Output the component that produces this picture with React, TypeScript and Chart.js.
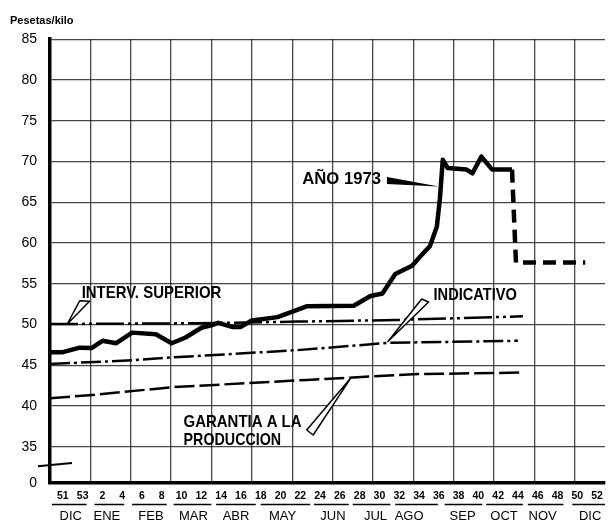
import { useEffect, useRef } from "react";
import { Chart, registerables } from "chart.js";

Chart.register(...registerables);

// Week index: -2 = week 51 of 1972, 0 = week 53 of 1972, n = week n of 1973
const weeks1973 = [-3.3, -2.0, -0.3, 0.9, 2.0, 3.4, 5.0, 7.4, 9.0, 10.4, 12.0, 13.0, 13.7, 15.1, 16.0, 17.1, 19.7, 22.7, 27.4, 29.1, 30.3, 31.6, 33.3, 34.4, 35.1, 35.8, 36.1, 36.4, 36.9, 38.8, 39.4, 40.3, 41.4, 43.4];
const price1973 = [46.6, 46.6, 47.15, 47.1, 48.0, 47.7, 49.0, 48.8, 47.7, 48.4, 49.6, 49.9, 50.2, 49.7, 49.7, 50.5, 50.9, 52.25, 52.3, 53.5, 53.8, 56.2, 57.2, 58.7, 59.6, 62.0, 65.3, 70.2, 69.2, 69.0, 68.55, 70.6, 69.0, 69.0];

const weeksProjected = [43.4, 43.8, 50.8];
const priceProjected = [69.0, 57.6, 57.6];

const weeksInterv = [-3.3, 11.7, 21.7, 31.7, 37.4, 44.5];
const priceInterv = [50.05, 50.15, 50.35, 50.55, 50.75, 51.0];

const weeksIndicativo = [-3.3, 5.0, 9.0, 21.7, 31.0, 44.0];
const priceIndicativo = [45.15, 45.6, 45.95, 46.85, 47.75, 48.0];

const weeksGarantia = [-3.3, 1.0, 9.0, 22.7, 33.4, 44.4];
const priceGarantia = [40.95, 41.35, 42.3, 43.2, 43.9, 44.1];

const weekTickValues = [-2, 0, 2, 4, 6, 8, 10, 12, 14, 16, 18, 20, 22, 24, 26, 28, 30, 32, 34, 36, 38, 40, 42, 44, 46, 48, 50, 52];
const weekTickLabels = ["51", "53", "2", "4", "6", "8", "10", "12", "14", "16", "18", "20", "22", "24", "26", "28", "30", "32", "34", "36", "38", "40", "42", "44", "46", "48", "50", "52"];

const monthLabels = ["DIC", "ENE", "FEB", "MAR", "ABR", "MAY", "JUN", "JUL", "AGO", "SEP", "OCT", "NOV", "DIC"];
const monthLabelWeeks = [-1.2, 2.45, 6.9, 11.2, 15.5, 20.2, 25.3, 29.6, 33.0, 38.4, 42.6, 46.5, 51.3];
const monthStartWeeks = [-3.1, 1.2, 5.0, 9.2, 13.5, 18.0, 23.4, 27.3, 31.6, 36.6, 40.8, 45.0, 49.5];
const monthEndWeeks = [0.4, 4.2, 8.5, 13.0, 17.5, 23.0, 26.9, 31.1, 35.9, 40.4, 44.5, 48.6, 52.8];

const yBottom = 30.55; // broken axis: shown as 0
const yTickValues = [yBottom, 35, 40, 45, 50, 55, 60, 65, 70, 75, 80, 85];
const yTickLabels = ["0", "35", "40", "45", "50", "55", "60", "65", "70", "75", "80", "85"];

const X_MIN = -3.3;
const X_MAX = 52.8;
const GRID_STEP = 4.08;

const SANS = "'Liberation Sans', Arial, Helvetica, sans-serif";
const GRID = "rgba(0,0,0,0.72)";

const toXY = (xs: number[], ys: number[]) => xs.map((x, i) => ({ x, y: ys[i] }));

const annotationTexts = [
  { text: "AÑO 1973", w: 22.2, v: 67.85, condense: 0.98 },
  { text: "INTERV. SUPERIOR", w: -0.1, v: 53.86, condense: 0.88 },
  { text: "INDICATIVO", w: 35.47, v: 53.62, condense: 0.86 },
  { text: "GARANTIA A LA", w: 10.2, v: 38.03, condense: 0.88 },
  { text: "PRODUCCION", w: 10.2, v: 35.8, condense: 0.84 },
];

const hollowPointers = [
  [[-0.3, 52.9], [0.7, 52.84], [-1.55, 50.06]],
  [[34.27, 53.13], [34.97, 52.76], [30.86, 47.9]],
  [[22.65, 37.05], [23.3, 36.44], [27.15, 43.5]],
];
const solidPointer = [[30.76, 68.1], [30.76, 67.24], [36.0, 66.93]];

const decorPlugin = {
  id: "decor",
  afterDraw(chart: any) {
    const ctx = chart.ctx;
    const xs = chart.scales.x;
    const ys = chart.scales.y;
    const xm = chart.scales.xm;
    const px = (w: number) => xs.getPixelForValue(w);
    const py = (v: number) => ys.getPixelForValue(v);
    ctx.save();
    // month underlines
    ctx.strokeStyle = "#000";
    ctx.lineWidth = 1.5;
    for (let i = 0; i < monthStartWeeks.length; i++) {
      ctx.beginPath();
      ctx.moveTo(xm.getPixelForValue(monthStartWeeks[i]), xm.top + 1.5);
      ctx.lineTo(xm.getPixelForValue(monthEndWeeks[i]), xm.top + 1.5);
      ctx.stroke();
    }
    // axis break mark
    ctx.lineWidth = 2;
    ctx.beginPath();
    ctx.moveTo(xs.left - 12, py(32.6));
    ctx.lineTo(xs.left + 22, py(33.0));
    ctx.stroke();
    // labels (condensed bold sans)
    ctx.fillStyle = "#000";
    ctx.font = `bold 17px ${SANS}`;
    ctx.textAlign = "left";
    ctx.textBaseline = "middle";
    for (const t of annotationTexts) {
      ctx.save();
      ctx.translate(px(t.w), py(t.v));
      ctx.scale(t.condense, 1);
      ctx.fillText(t.text, 0, 0);
      ctx.restore();
    }
    // solid wedge
    ctx.beginPath();
    solidPointer.forEach(([w, v], i) => (i ? ctx.lineTo(px(w), py(v)) : ctx.moveTo(px(w), py(v))));
    ctx.closePath();
    ctx.fill();
    // hollow pointers
    ctx.lineWidth = 1.5;
    ctx.lineJoin = "round";
    for (const p of hollowPointers) {
      ctx.beginPath();
      p.forEach(([w, v], i) => (i ? ctx.lineTo(px(w), py(v)) : ctx.moveTo(px(w), py(v))));
      ctx.closePath();
      ctx.fillStyle = "#fff";
      ctx.fill();
      ctx.stroke();
    }
    ctx.restore();
  },
};

export default function App() {
  const ref = useRef<HTMLCanvasElement>(null);
  useEffect(() => {
    const canvas = ref.current!;
    const lineBase = { pointRadius: 0, tension: 0, borderColor: "#000", fill: false, borderJoinStyle: "round" as const };
    const chart = new Chart(canvas, {
      type: "line",
      data: {
        datasets: [
          { ...lineBase, label: "INTERV. SUPERIOR", data: toXY(weeksInterv, priceInterv), borderWidth: 2.5, borderDash: [28, 4, 3, 4, 3, 4] },
          { ...lineBase, label: "INDICATIVO", data: toXY(weeksIndicativo, priceIndicativo), borderWidth: 2.5, borderDash: [20, 4, 3, 4] },
          { ...lineBase, label: "GARANTIA A LA PRODUCCION", data: toXY(weeksGarantia, priceGarantia), borderWidth: 2.5, borderDash: [20, 5] },
          { ...lineBase, label: "AÑO 1973", data: toXY(weeks1973, price1973), borderWidth: 4.5 },
          { ...lineBase, label: "AÑO 1973 (proyección)", data: toXY(weeksProjected, priceProjected), borderWidth: 4.5, borderDash: [13, 7] },
        ],
      },
      options: {
        responsive: false,
        animation: false,
        devicePixelRatio: 1,
        layout: { padding: { left: 10, top: 0, right: 0, bottom: 0 } },
        plugins: {
          legend: { display: false },
          tooltip: { enabled: false },
          title: {
            display: true,
            text: "Pesetas/kilo",
            align: "start",
            color: "#000",
            font: { family: SANS, size: 11, weight: "bold" },
            padding: { top: 14, bottom: 12 },
          },
        },
        scales: {
          x: {
            type: "linear",
            position: "bottom",
            min: X_MIN,
            max: X_MAX,
            weight: 0,
            afterBuildTicks: (s: any) => {
              const t = [];
              for (let v = X_MIN; v <= X_MAX + 1e-6; v += GRID_STEP) t.push({ value: v });
              s.ticks = t;
            },
            afterFit: (s: any) => { s.height = 0; },
            ticks: { display: false },
            grid: { color: GRID, lineWidth: 1.3, drawTicks: false },
            border: { display: true, color: "#000", width: 3.5 },
          },
          xw: {
            type: "linear",
            position: "bottom",
            min: X_MIN,
            max: X_MAX,
            weight: 1,
            afterBuildTicks: (s: any) => { s.ticks = weekTickValues.map((v) => ({ value: v })); },
            afterFit: (s: any) => { s.height = 20; },
            grid: { display: false, drawTicks: false },
            border: { display: false },
            ticks: {
              autoSkip: false, maxRotation: 0, minRotation: 0, padding: 7, color: "#000",
              font: { family: SANS, size: 10.5, weight: "bold" },
              callback: (_v: any, i: number) => weekTickLabels[i],
            },
          },
          xm: {
            type: "linear",
            position: "bottom",
            min: X_MIN,
            max: X_MAX,
            weight: 2,
            afterBuildTicks: (s: any) => { s.ticks = monthLabelWeeks.map((v) => ({ value: v })); },
            afterFit: (s: any) => { s.height = 17; },
            grid: { display: false, drawTicks: false },
            border: { display: false },
            ticks: {
              autoSkip: false, maxRotation: 0, minRotation: 0, padding: 6, color: "#000",
              font: { family: SANS, size: 13 },
              callback: (_v: any, i: number) => monthLabels[i],
            },
          },
          y: {
            type: "linear",
            position: "left",
            min: yBottom,
            max: 85,
            afterBuildTicks: (s: any) => { s.ticks = yTickValues.map((v) => ({ value: v })); },
            afterFit: (s: any) => { s.width = 40; },
            ticks: {
              padding: 13, color: "#000",
              font: { family: SANS, size: 14 },
              callback: (_v: any, i: number) => yTickLabels[i],
            },
            grid: { color: GRID, lineWidth: 1.3, drawTicks: false },
            border: { display: true, color: "#000", width: 3.5 },
          },
        },
      } as any,
      plugins: [decorPlugin],
    });
    return () => chart.destroy();
  }, []);
  return (
    <div style={{ position: "fixed", left: 0, top: 0, width: 610, height: 520, background: "#fff" }}>
      <canvas ref={ref} width={610} height={520} style={{ display: "block" }} />
    </div>
  );
}
